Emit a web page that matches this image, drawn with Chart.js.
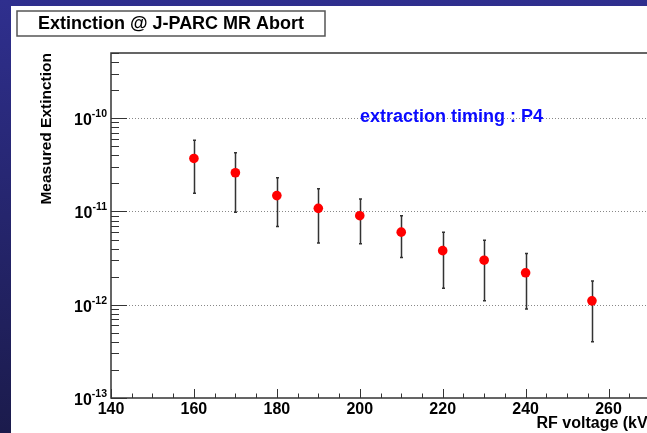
<!DOCTYPE html>
<html>
<head>
<meta charset="utf-8">
<script src="https://cdn.jsdelivr.net/npm/chart.js@4.4.1/dist/chart.umd.min.js"></script>
<style>
  html, body { margin: 0; padding: 0; overflow: hidden; background: #fff; }
  #wrap { width: 680px; height: 433px; }
</style>
</head>
<body>
<div id="wrap"><canvas id="c" width="680" height="433"></canvas></div>
<script>
// data
const rfVoltage  = [160, 170, 180, 190, 200, 210, 220, 230, 240, 256];
const extinction = [3.7e-11, 2.6e-11, 1.48e-11, 1.08e-11, 9.0e-12, 6.0e-12, 3.8e-12, 3.0e-12, 2.2e-12, 1.1e-12];
const errHigh    = [5.8e-11, 4.25e-11, 2.3e-11, 1.75e-11, 1.36e-11, 9.0e-12, 6.0e-12, 4.9e-12, 3.55e-12, 1.8e-12];
const errLow     = [1.57e-11, 9.8e-12, 6.9e-12, 4.6e-12, 4.5e-12, 3.2e-12, 1.5e-12, 1.1e-12, 9.0e-13, 4.0e-13];

const xTickLabels = [140, 160, 180, 200, 220, 240, 260];
const xMinorTicks = [145, 150, 155, 165, 170, 175, 185, 190, 195, 205, 210, 215, 225, 230, 235, 245, 250, 255, 265];
const yDecades = [-13, -12, -11, -10];

const FONT = '"Liberation Sans", Arial, Helvetica, sans-serif';

// background, frame, ticks, labels, error bars
const rootStyle = {
  id: 'rootStyle',
  beforeDraw(chart) {
    const ctx = chart.ctx;
    const W = chart.width, H = chart.height;
    ctx.save();
    const g = ctx.createLinearGradient(0, 0, 0, H);
    g.addColorStop(0, '#2f2f8e');
    g.addColorStop(1, '#1b1b4c');
    ctx.fillStyle = g;
    ctx.fillRect(0, 0, W, 6);
    ctx.fillRect(0, 0, 11, H);
    ctx.fillStyle = '#fff';
    ctx.fillRect(11, 6, W - 11, H - 6);

    // title box
    ctx.fillStyle = '#fff';
    ctx.fillRect(17, 11, 308, 25);
    ctx.strokeStyle = '#555';
    ctx.lineWidth = 1.5;
    ctx.strokeRect(17, 11, 308, 25);
    ctx.fillStyle = '#000';
    ctx.font = 'bold 18px ' + FONT;
    ctx.textAlign = 'center';
    ctx.textBaseline = 'middle';
    ctx.fillText('Extinction @ J-PARC MR Abort', 171, 24);
    ctx.restore();
  },
  beforeDatasetsDraw(chart) {
    const ctx = chart.ctx;
    const a = chart.chartArea;
    const xs = chart.scales.x, ys = chart.scales.y;
    ctx.save();

    // dotted grid at decades
    ctx.strokeStyle = '#888';
    ctx.lineWidth = 1;
    ctx.setLineDash([1, 2]);
    yDecades.forEach(d => {
      const y = Math.round(ys.getPixelForValue(Math.pow(10, d))) + 0.5;
      if (y <= a.top + 1 || y >= a.bottom - 1) return;
      ctx.beginPath();
      ctx.moveTo(a.left, y);
      ctx.lineTo(a.right, y);
      ctx.stroke();
    });
    ctx.setLineDash([]);

    // frame
    ctx.strokeStyle = '#333';
    ctx.lineWidth = 1.5;
    ctx.strokeRect(a.left, a.top, a.right - a.left, a.bottom - a.top);

    // y ticks (inward)
    ctx.lineWidth = 1;
    ctx.strokeStyle = '#333';
    const yMax = ys.max;
    yDecades.forEach(d => {
      for (let m = 1; m <= 9; m++) {
        const v = m * Math.pow(10, d);
        if (v > yMax) break;
        const y = Math.round(ys.getPixelForValue(v)) + 0.5;
        ctx.beginPath();
        ctx.moveTo(a.left, y);
        ctx.lineTo(a.left + (m === 1 ? 16 : 8), y);
        ctx.stroke();
      }
    });
    // x ticks (inward)
    xTickLabels.concat(xMinorTicks).forEach(v => {
      const x = Math.round(xs.getPixelForValue(v)) + 0.5;
      const major = xTickLabels.indexOf(v) >= 0;
      ctx.beginPath();
      ctx.moveTo(x, a.bottom);
      ctx.lineTo(x, a.bottom - (major ? 9 : 4.5));
      ctx.stroke();
    });

    // y tick labels 10^n
    ctx.fillStyle = '#000';
    ctx.textBaseline = 'alphabetic';
    yDecades.forEach(d => {
      const y = ys.getPixelForValue(Math.pow(10, d));
      ctx.font = 'bold 10.5px ' + FONT;
      const sup = String(d);
      const sw = ctx.measureText(sup).width;
      ctx.textAlign = 'right';
      ctx.fillText(sup, a.left - 4, y - 1);
      ctx.font = 'bold 16px ' + FONT;
      ctx.fillText('10', a.left - 4 - sw, y + 7);
    });

    // x tick labels
    ctx.font = 'bold 16px ' + FONT;
    ctx.textAlign = 'center';
    ctx.textBaseline = 'middle';
    xTickLabels.forEach(v => {
      ctx.fillText(String(v), xs.getPixelForValue(v), a.bottom + 12);
    });

    // axis titles
    ctx.textAlign = 'right';
    ctx.fillText('RF voltage (kV)', a.right + 3, a.bottom + 26);
    ctx.save();
    ctx.translate(47, a.top);
    ctx.rotate(-Math.PI / 2);
    ctx.font = 'bold 15.5px ' + FONT;
    ctx.textAlign = 'right';
    ctx.textBaseline = 'middle';
    ctx.fillText('Measured Extinction', 0, 0);
    ctx.restore();

    // annotation
    ctx.fillStyle = '#0a0aff';
    ctx.font = 'bold 18px ' + FONT;
    ctx.textAlign = 'left';
    ctx.textBaseline = 'middle';
    ctx.fillText('extraction timing : P4', 360, ys.getPixelForValue(1e-10) - 1);

    // error bars
    ctx.strokeStyle = '#333';
    ctx.lineWidth = 1.5;
    rfVoltage.forEach((v, i) => {
      const x = Math.round(xs.getPixelForValue(v)) + 0.5;
      const yt = ys.getPixelForValue(errHigh[i]);
      const yb = ys.getPixelForValue(errLow[i]);
      ctx.beginPath();
      ctx.moveTo(x, yt);
      ctx.lineTo(x, yb);
      ctx.moveTo(x - 1.5, yt);
      ctx.lineTo(x + 1.5, yt);
      ctx.moveTo(x - 1.5, yb);
      ctx.lineTo(x + 1.5, yb);
      ctx.stroke();
    });
    ctx.restore();
  }
};

new Chart(document.getElementById('c'), {
  type: 'scatter',
  data: {
    datasets: [{
      data: rfVoltage.map((v, i) => ({ x: v, y: extinction[i] })),
      backgroundColor: '#ff0000',
      borderWidth: 0,
      pointRadius: 4.8,
      pointHoverRadius: 4.8
    }]
  },
  options: {
    responsive: false,
    animation: false,
    events: [],
    layout: { padding: { left: 111, top: 53, right: 30, bottom: 35 } },
    plugins: { legend: { display: false }, tooltip: { enabled: false } },
    scales: {
      x: { type: 'linear', min: 140, max: 270, display: false },
      y: { type: 'logarithmic', min: 1e-13, max: 5e-10, display: false }
    }
  },
  plugins: [rootStyle]
});
</script>
</body>
</html>
